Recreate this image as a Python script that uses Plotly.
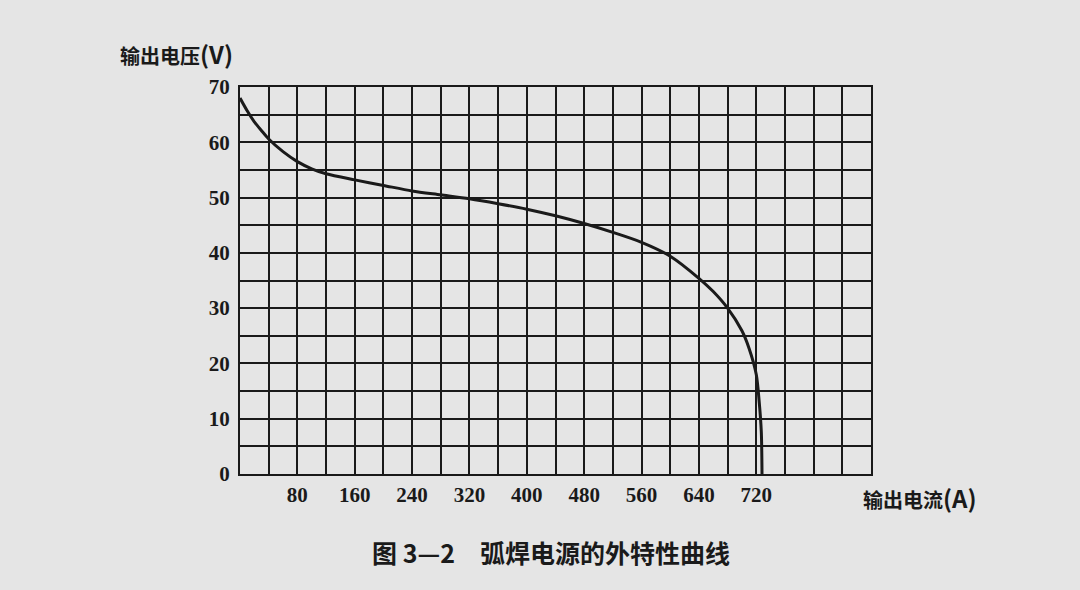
import plotly.graph_objects as go

# ---- data ----
current_a = [0, 10, 20, 30, 40, 60, 80, 100, 120, 160, 200, 240, 280, 320, 360, 400, 440, 480,
             520, 560, 600, 640, 660, 680, 700, 710, 720, 724, 727, 728]
voltage_v = [68.0, 65.7, 63.7, 62.1, 60.6, 58.3, 56.5, 55.2, 54.3, 53.2, 52.2, 51.2, 50.5,
             49.8, 48.9, 47.9, 46.7, 45.3, 43.7, 41.9, 39.4, 35.4, 33.0, 30.0, 25.9, 22.7,
             18.0, 13.2, 7.7, 0.0]
x_tick_vals = [80, 160, 240, 320, 400, 480, 560, 640, 720]
y_tick_vals = [0, 10, 20, 30, 40, 50, 60, 70]
x_title = ("输出电流", "(A)")
y_title = ("输出电压", "(V)")
caption = "图 3—2　弧焊电源的外特性曲线"

# ---- layout geometry (pixels) ----
W, H = 1080, 590
L, R, T, B = 240, 209, 87, 116
PW, PH = W - L - R, H - T - B

def px(x):
    return (x - L) / PW

def py(y):
    return (H - B - y) / PH

BG = "#e5e5e5"
INK = "#1a1a1a"
CJK = "Noto Sans CJK SC"
SERIF = "Liberation Serif"

def title_text(parts):
    return parts[0] + "<span style='font-size:24px'>" + parts[1] + "</span>"

fig = go.Figure()
fig.add_trace(go.Scatter(
    x=current_a, y=voltage_v, mode="lines",
    line=dict(color=INK, width=3, shape="spline", smoothing=0.8),
    hoverinfo="skip", showlegend=False,
))

grid_style = dict(showgrid=True, gridcolor=INK, gridwidth=2)

fig.update_xaxes(
    range=[0, 880], tickmode="array", tickvals=x_tick_vals,
    ticktext=[str(v) for v in x_tick_vals],
    ticks="", ticklabelstandoff=1,
    tickfont=dict(family=SERIF, size=21, color=INK, weight="bold"),
    showline=True, linecolor=INK, linewidth=2, mirror=True,
    zeroline=False, fixedrange=True,
    minor=dict(tickmode="linear", tick0=0, dtick=40, **grid_style),
    **grid_style,
)
fig.update_yaxes(
    range=[0, 70], tickmode="array", tickvals=y_tick_vals,
    ticktext=[str(v) for v in y_tick_vals],
    ticks="", ticklabelstandoff=4,
    tickfont=dict(family=SERIF, size=21, color=INK, weight="bold"),
    showline=True, linecolor=INK, linewidth=2, mirror=True,
    zeroline=False, fixedrange=True,
    minor=dict(tickmode="linear", tick0=0, dtick=5, **grid_style),
    **grid_style,
)

annotations = [
    dict(text=title_text(y_title), x=px(118), y=py(53), xanchor="left", yanchor="middle",
         font=dict(family=CJK, size=20, color=INK, weight="bold")),
    dict(text=title_text(x_title), x=px(861), y=py(497), xanchor="left", yanchor="middle",
         font=dict(family=CJK, size=20, color=INK, weight="bold")),
    dict(text=caption, x=px(551), y=py(552), xanchor="center", yanchor="middle",
         font=dict(family=CJK, size=25, color=INK, weight="bold")),
]
for a in annotations:
    a.update(xref="paper", yref="paper", showarrow=False)

fig.update_layout(
    width=W, height=H,
    margin=dict(l=L, r=R, t=T, b=B, pad=0),
    paper_bgcolor=BG, plot_bgcolor=BG,
    annotations=annotations,
    showlegend=False,
)

fig.write_html(
    "out.html",
    config={"displayModeBar": False},
    post_script="document.body.style.margin='0';document.body.style.overflow='hidden';"
                "document.body.style.background='" + BG + "';",
)
